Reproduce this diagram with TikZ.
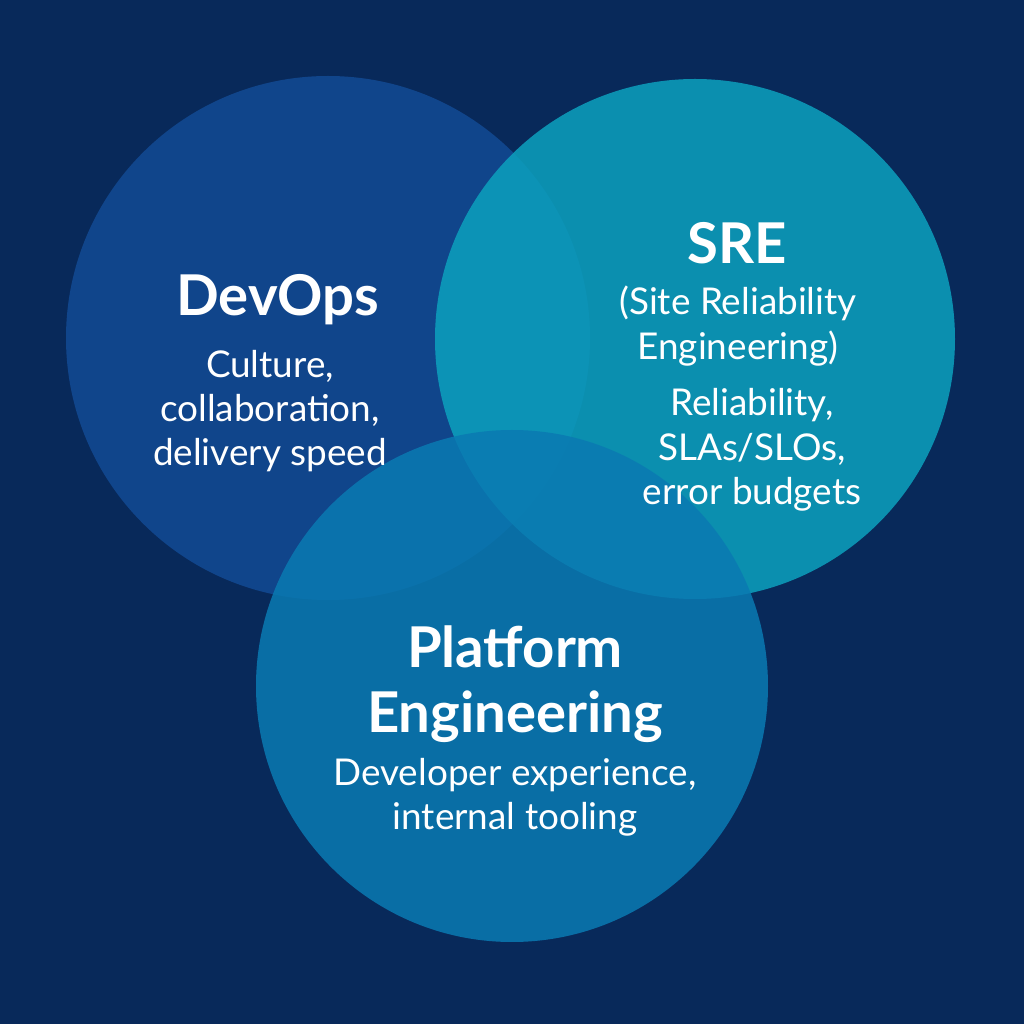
\documentclass[tikz,border=0pt]{standalone}
\usepackage{fontspec}
\setmainfont{Lato}
\definecolor{navy}{HTML}{08295A}
\definecolor{devblue}{HTML}{124A94}
\definecolor{sreblue}{HTML}{0CA0BE}
\definecolor{platblue}{HTML}{0A7AB2}
\tikzset{
  venn/.style={fill opacity=0.86},
  title/.style={text=white,align=center,font=\fontsize{16}{18}\selectfont\bfseries},
  body/.style={text=white,align=center,font=\fontsize{10.5}{12.6}\selectfont}
}
\begin{document}
\begin{tikzpicture}
  \fill [navy] (0,0) rectangle (10.24,10.24);
  \useasboundingbox (0,0) rectangle (10.24,10.24);

  \coordinate (D) at (3.28,6.86);
  \coordinate (S) at (6.95,6.85);
  \coordinate (P) at (5.12,3.38);

  \fill [devblue,venn] (D) circle (2.62);
  \fill [sreblue,venn] (S) circle (2.60);
  \fill [platblue,venn] (P) circle (2.56);

  \node [title] (devtitle) at (2.78,7.24) {DevOps};
  \node [body] (devbody) at (2.70,6.13) {Culture,\\collaboration,\\delivery speed};

  \node [title] (sretitle) at (7.37,7.81) {SRE};
  \node [body] (srefull) at (7.38,6.98) {(Site Reliability\\Engineering)};
  \node [body] (srebody) at (7.52,5.74) {Reliability,\\SLAs/SLOs,\\error budgets};

  \node [title,font=\fontsize{16}{18.5}\selectfont\bfseries] (plattitle) at (5.15,3.40) {Platform\\Engineering};
  \node [body] (platbody) at (5.15,2.27) {Developer experience,\\internal tooling};
\end{tikzpicture}
\end{document}
